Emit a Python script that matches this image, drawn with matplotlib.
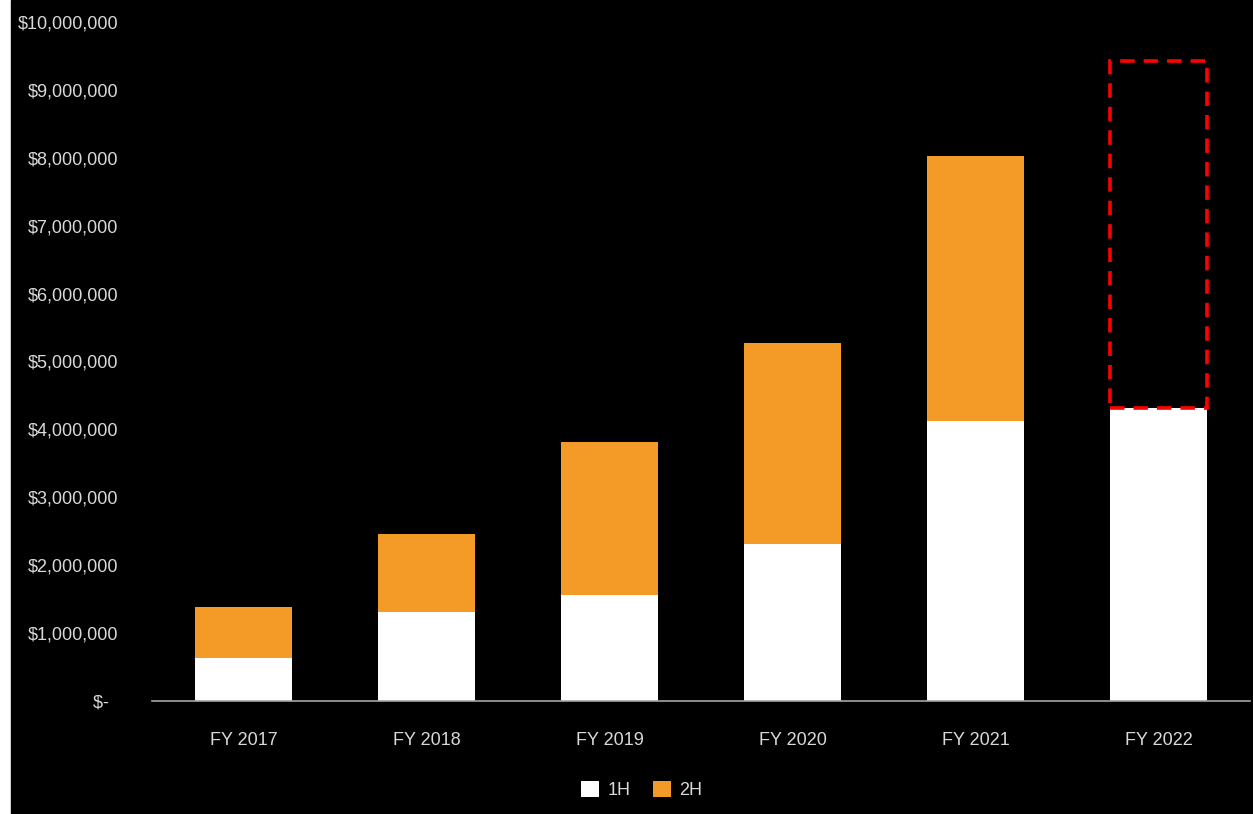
import matplotlib.pyplot as plt
from matplotlib.patches import Rectangle
from matplotlib.ticker import FuncFormatter

plt.rcParams['font.family'] = ['Liberation Sans', 'DejaVu Sans']

years = ['FY 2017', 'FY 2018', 'FY 2019', 'FY 2020', 'FY 2021', 'FY 2022']
first_half = [633000, 1310000, 1560000, 2310000, 4120000, 4320000]
second_half = [751000, 1150000, 2250000, 2960000, 3910000, 0]
fy2022_target = 9430000  # dashed outline top for FY 2022

white = '#ffffff'
orange = '#F39A27'
text_col = '#d9d9d9'

fig = plt.figure(figsize=(12.53, 8.14), dpi=100)
fig.patch.set_facecolor('white')
# black panel (small white margin on the left)
fig.add_artist(Rectangle((11 / 1253, 0), 1 - 11 / 1253, 1,
                         transform=fig.transFigure, color='black', zorder=0))

ax = fig.add_axes([152 / 1253, 113 / 814, 1098 / 1253, 679 / 814])
ax.set_facecolor('black')

x = list(range(len(years)))
w = 0.525
ax.bar(x, first_half, w, color=white, label='1H', zorder=2)
ax.bar(x, second_half, w, bottom=first_half, color=orange, label='2H', zorder=2)

# dashed outline for the expected FY 2022 second half
i = len(years) - 1
ax.add_patch(Rectangle((i - w / 2, first_half[i]), w, fy2022_target - first_half[i],
                       fill=False, edgecolor='#ff0000', linestyle=(0, (4, 2.5)),
                       linewidth=2.6, zorder=3))

ax.set_xlim(-0.5, len(years) - 0.5)
ax.set_ylim(0, 10000000)
ax.set_xticks(x)
ax.set_xticklabels(years)
ax.set_yticks(range(0, 10000001, 1000000))


def money(v, pos):
    if v == 0:
        return '$-  '
    return '${:,.0f}'.format(v)


ax.yaxis.set_major_formatter(FuncFormatter(money))
ax.tick_params(axis='both', length=0, colors=text_col, labelsize=13)
ax.tick_params(axis='y', pad=24)
ax.tick_params(axis='x', pad=22)

for s in ['top', 'right', 'left']:
    ax.spines[s].set_visible(False)
ax.spines['bottom'].set_color('#a6a6a6')
ax.spines['bottom'].set_linewidth(1.2)

leg = ax.legend(loc='center', bbox_to_anchor=(0.446, -0.131), ncol=2, frameon=False,
                fontsize=13, handlelength=1.0, handleheight=1.0, columnspacing=1.2,
                handletextpad=0.5)
for t in leg.get_texts():
    t.set_color(text_col)

fig.savefig('out.png', dpi=100, facecolor=fig.get_facecolor())
